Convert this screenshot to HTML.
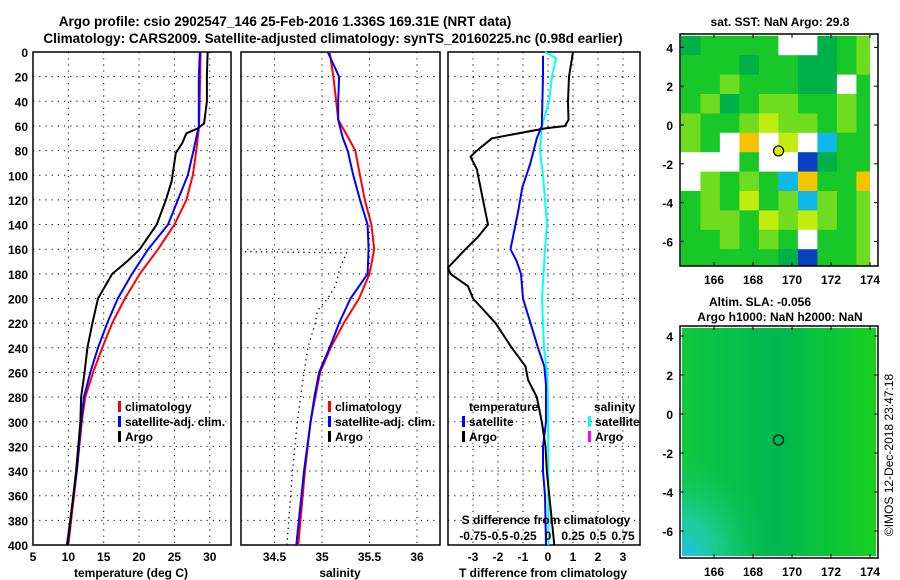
<!DOCTYPE html>
<html><head><meta charset="utf-8">
<style>
html,body{margin:0;padding:0;background:#fff;}
svg{display:block;font-family:"Liberation Sans",Arial,sans-serif;font-weight:bold;}
text{fill:#000;}
</style></head>
<body>
<svg id="fig" width="900" height="580" viewBox="0 0 900 580" xmlns="http://www.w3.org/2000/svg">
<text x="285" y="26" font-size="13.5" text-anchor="middle">Argo profile: csio 2902547_146 25-Feb-2016 1.336S 169.31E (NRT data)</text>
<text x="333" y="43" font-size="13.5" text-anchor="middle">Climatology: CARS2009. Satellite-adjusted climatology: synTS_20160225.nc (0.98d earlier)</text>
<g id="p1"></g>
<g id="p2"></g>
<g id="p3"></g>
<g id="m1"></g>
<g id="m2"></g>
<text transform="translate(893,455) rotate(-90)" font-size="12" font-weight="normal" text-anchor="middle">©IMOS 12-Dec-2018 23:47:18</text>
</svg>
<script>
// ---- data ----
const depthTicks = [0,20,40,60,80,100,120,140,160,180,200,220,240,260,280,300,320,340,360,380,400];
const tempTicks = [5,10,15,20,25,30];
const salTicks = [34.5,35,35.5,36];
const dTTicks = [-3,-2,-1,0,1,2,3];
const dSTickLabels = ["-0.75","-0.5","-0.25","0","0.25","0.5","0.75"];
const dSTicks = [-0.75,-0.5,-0.25,0,0.25,0.5,0.75];

const argoTDepth = [0,20,40,58,62,66,74,82,105,120,140,160,170,180,200,220,240,260,280,300,340,400];
const argoT = [29.7,29.6,29.6,29.2,28.3,26.7,26.1,25.2,24.6,23.8,22.5,20.1,18.3,16.2,14.2,13.4,12.7,12.3,11.8,11.7,11.1,9.9];
const climDepth = [0,20,60,80,100,120,140,160,180,200,220,240,260,280,300,340,400];
const climT = [28.7,28.65,28.5,28.1,27.6,26.7,25.0,22.7,20.1,18.0,16.2,14.8,13.5,12.4,11.9,11.2,10.0];
const satT = [28.6,28.45,28.45,27.7,26.9,25.5,24.1,21.3,19.0,17.0,15.5,14.2,13.1,12.2,11.8,11.2,9.8];

const salDepth = [0,20,40,55,70,80,100,120,140,160,180,200,220,240,260,280,300,340,400];
const climS = [35.08,35.12,35.15,35.17,35.28,35.35,35.40,35.45,35.52,35.55,35.50,35.39,35.23,35.09,34.98,34.93,34.88,34.82,34.75];
const satS = [35.06,35.18,35.17,35.17,35.22,35.27,35.33,35.40,35.48,35.49,35.48,35.30,35.18,35.08,34.97,34.92,34.88,34.81,34.73];
const argoSDepth = [162,163,175,190,200,210,220,240,266,300,340,400];
const argoS = [34.19,35.26,35.19,35.14,35.06,34.95,34.93,34.85,34.80,34.74,34.69,34.63];

const argoDTDepth = [0,20,40,55,60,62,70,80,85,95,120,140,150,160,175,180,190,200,220,240,255,266,280,300,320,340,360,380,400];
const argoDT = [1.0,0.84,0.8,0.82,0.68,-0.12,-2.24,-2.85,-3.1,-2.85,-2.6,-2.4,-2.8,-3.3,-4.0,-3.9,-3.2,-3.0,-2.1,-1.45,-0.9,-0.8,-0.45,-0.25,-0.1,-0.05,0.05,0.15,0.25];
const satDTDepth = [3,20,60,70,90,110,130,150,160,170,180,200,220,240,255,270,300,320,340,360,400];
const satDT = [-0.2,-0.2,-0.25,-0.45,-0.7,-1.03,-1.2,-1.4,-1.5,-1.25,-1.08,-1.0,-0.7,-0.4,-0.15,-0.08,-0.08,-0.2,-0.2,-0.12,-0.08];
const satDSDepth = [0,5,20,40,60,80,100,140,160,200,240,260,280,400];
const satDS = [-0.03,0.08,0.04,0.01,-0.06,-0.08,-0.05,-0.01,-0.03,-0.06,-0.04,-0.01,0.0,0.005];

const lonTicks = [166,168,170,172,174];
const latTicks = [4,2,0,-2,-4,-6];
const argoLon = [169.31];
const argoLat = [-1.336];
// SST map coarse cells (rows from north), codes
const sstRows = [
"DGGGGWWDGL",
"GGGDGGDDGL",
"GGLGGGDDWG",
"GLDGLLGGLG",
"LGGLYLLGLG",
"LGWOWYWCGG",
"WWWGWWBDGG",
"WLGLGCOGGO",
"GLGYGLCLGL",
"GLLGYLYLGL",
"GGLGLGWGGL",
"GGGGGDBGGL"];
const sstColors = {G:"#18c828",D:"#00b048",L:"#70dc20",Y:"#c0ec10",W:"#ffffff",O:"#f4c400",B:"#0840c0",C:"#10b8e8"};

// ---- helpers ----
const NS="http://www.w3.org/2000/svg";
function mk(parent,tag,attrs){const e=document.createElementNS(NS,tag);for(const k in attrs)e.setAttribute(k,attrs[k]);parent.appendChild(e);return e;}
const Y0=52,Y1=545;
const yD = d => Y0 + d*(Y1-Y0)/400;
const xT = t => 33 + (t-5)*7.07;
const xS = s => 322 + (s-35)*95;
const xdT = v => 548 + v*25;
const xdS = v => 548 + v*100;

function frame(g,x0,x1,name){
  const r=mk(g,'rect',{x:x0,y:Y0,width:x1-x0,height:Y1-Y0,fill:'none',stroke:'#000','stroke-width':1.5});
  
  
  depthTicks.forEach(d=>{
    if(d>0&&d<400){const l=mk(g,'line',{x1:x0,x2:x1,y1:yD(d),y2:yD(d),stroke:'#000','stroke-width':1,'stroke-dasharray':'1.2 5'});
    
    }
  });
}
function vgrid(g,x,name){
  const l=mk(g,'line',{x1:x,x2:x,y1:Y0,y2:Y1,stroke:'#000','stroke-width':1,'stroke-dasharray':'1.2 5'});
  
  
}
function txt(g,x,y,s,size,anchor,name){
  const t=mk(g,'text',{x:x,y:y,'font-size':size,'text-anchor':anchor||'start'});
  t.textContent=s;
  
  
  return t;
}
function line(g,xs,ys,fx,color,w,name,dash){
  const pts=xs.map((v,i)=>fx(v).toFixed(1)+','+yD(ys[i]).toFixed(1)).join(' ');
  const a={points:pts,fill:'none',stroke:color,'stroke-width':w,'stroke-linejoin':'round'};
  if(dash)a['stroke-dasharray']=dash;
  const p=mk(g,'polyline',a);
  
  
}
function legend(g,x,y,color,label,name){
  const m=mk(g,'rect',{x:x,y:y-9,width:3,height:11,fill:color});
  
  
  txt(g,x+7,y+1,label,12,'start',name);
}

// ---- panel 1 ----
const p1=document.getElementById('p1');
frame(p1,33,231,'temperature');
tempTicks.forEach(t=>{ if(t>5) vgrid(p1,xT(t),'temp-grid-line'); txt(p1,xT(t),561,String(t),12,'middle','temp-tick-label');});
depthTicks.forEach(d=>txt(p1,28,yD(d)+5,String(d),12,'end','depth-tick-label'));
txt(p1,131,577,'temperature (deg C)',12,'middle','temperature-axis-title');
line(p1,climT,climDepth,xT,'#ff0000',2,'clim-temperature-line');
line(p1,satT,climDepth,xT,'#0000ff',2,'sat-temperature-line');
line(p1,argoT,argoTDepth,xT,'#000000',2,'argo-temperature-line');
legend(p1,118,410,'#ff0000','climatology','legend-climatology');
legend(p1,118,425,'#0000ff','satellite-adj. clim.','legend-satellite');
legend(p1,118,440,'#000000','Argo','legend-argo');

// ---- panel 2 ----
const p2=document.getElementById('p2');
frame(p2,241,440,'salinity');
salTicks.forEach(s=>{ vgrid(p2,xS(s),'sal-grid-line'); txt(p2,xS(s),561,String(s),12,'middle','sal-tick-label');});
txt(p2,340,577,'salinity',12,'middle','salinity-axis-title');
line(p2,argoS,argoSDepth,xS,'#000000',1.3,'argo-salinity-line','1.3 4');
line(p2,climS,salDepth,xS,'#ff0000',2,'clim-salinity-line');
line(p2,satS,salDepth,xS,'#0000ff',2,'sat-salinity-line');
legend(p2,328,410,'#ff0000','climatology','legend-climatology-s');
legend(p2,328,425,'#0000ff','satellite-adj. clim.','legend-satellite-s');
legend(p2,328,440,'#000000','Argo','legend-argo-s');

// ---- panel 3 ----
const p3=document.getElementById('p3');
frame(p3,448,640,'difference');
dTTicks.forEach(v=>{ vgrid(p3,xdT(v),'dt-grid-line'); txt(p3,xdT(v),561,String(v),12,'middle','dt-tick-label');});
txt(p3,543,577,'T difference from climatology',12,'middle','dt-axis-title');
line(p3,satDS,satDSDepth,xdS,'#00ffff',2,'sat-salinity-diff-line');
line(p3,satDT,satDTDepth,xdT,'#0000ff',2,'sat-temperature-diff-line');
line(p3,argoDT,argoDTDepth,xdT,'#000000',2,'argo-temperature-diff-line');
txt(p3,469,411,'temperature',12,'start','legend-temperature-heading');
legend(p3,462,425,'#0000ff','satellite','legend-t-satellite');
legend(p3,462,440,'#000000','Argo','legend-t-argo');
txt(p3,594,411,'salinity',12,'start','legend-salinity-heading');
legend(p3,588,425,'#00ffff','satellite','legend-s-satellite');
legend(p3,588,440,'#ff00ff','Argo','legend-s-argo');
txt(p3,546,524,'S difference from climatology',12,'middle','ds-axis-title');
dSTicks.forEach((v,i)=>txt(p3,xdS(v),540,dSTickLabels[i],12,'middle','ds-tick-label'));

// ---- maps ----
function mapAxes(g,top,bot,latY,name){
  const r=mk(g,'rect',{x:680,y:top,width:198,height:bot-top,fill:'none',stroke:'#000','stroke-width':1.5});
  
  
  lonTicks.forEach(l=>{const x=714+(l-166)*19.5;
    mk(g,'line',{x1:x,x2:x,y1:bot,y2:bot-4,stroke:'#000'});mk(g,'line',{x1:x,x2:x,y1:top,y2:top+4,stroke:'#000'});
    txt(g,x,bot+18,String(l),12,'middle',name+'-lon-label');});
  latTicks.forEach(l=>{const y=latY(l);
    mk(g,'line',{x1:680,x2:684,y1:y,y2:y,stroke:'#000'});mk(g,'line',{x1:878,x2:874,y1:y,y2:y,stroke:'#000'});
    txt(g,673,y+5,String(l),12,'end',name+'-lat-label');});
}
const m1=document.getElementById('m1');
const lat1 = l => 125 - l*19.4;
const lon1 = l => 714 + (l-166)*19.5;
txt(m1,780,26,'sat. SST: NaN Argo: 29.8',12,'middle','sst-map-title');
sstRows.forEach((row,ri)=>{
  for(let ci=0;ci<row.length;ci++){
    const x=lon1(164.3+ci), y=lat1(4.6-ri);
    const c=mk(m1,'rect',{x:x.toFixed(1),y:y.toFixed(1),width:20,height:20,fill:sstColors[row[ci]]});
    
    
  }
});
mk(m1,'rect',{x:870,y:34,width:12,height:236,fill:'#fff'});
mk(m1,'rect',{x:680,y:266,width:200,height:8,fill:'#fff'});
mapAxes(m1,34,266,lat1,'sst-map');
argoLon.forEach((lo,i)=>{const c=mk(m1,'circle',{cx:lon1(lo),cy:lat1(argoLat[i]),r:5,fill:'#d8f000',stroke:'#000','stroke-width':1.2});
  
  });

const m2=document.getElementById('m2');
const lat2 = l => 414 - l*19.5;
txt(m2,760,306,'Altim. SLA: -0.056',12,'middle','sla-map-title-1');
txt(m2,780,321,'Argo h1000: NaN h2000: NaN',12,'middle','sla-map-title-2');
const defs=mk(document.getElementById('fig'),'defs',{});
const rg=mk(defs,'radialGradient',{id:'cy',cx:'0',cy:'1',r:'0.45'});
mk(rg,'stop',{offset:'0','stop-color':'#20c0f0'});
mk(rg,'stop',{offset:'0.4','stop-color':'#20d0b0','stop-opacity':'0.7'});
mk(rg,'stop',{offset:'1','stop-color':'#10c060','stop-opacity':'0'});
const lg=mk(defs,'linearGradient',{id:'gr',x1:'0',y1:'0',x2:'1',y2:'0'});
mk(lg,'stop',{offset:'0','stop-color':'#10c840'});
mk(lg,'stop',{offset:'0.5','stop-color':'#00b850'});
mk(lg,'stop',{offset:'1','stop-color':'#18d020'});
const bg=mk(m2,'rect',{x:682,y:328,width:194,height:228,fill:'url(#gr)'});


mk(m2,'rect',{x:682,y:328,width:194,height:228,fill:'url(#cy)'});
mapAxes(m2,326,558,lat2,'sla-map');
argoLon.forEach((lo,i)=>{const c=mk(m2,'circle',{cx:lon1(lo),cy:lat2(argoLat[i]),r:5,fill:'none',stroke:'#000','stroke-width':1.2});
  
  });
</script>
</body></html>
